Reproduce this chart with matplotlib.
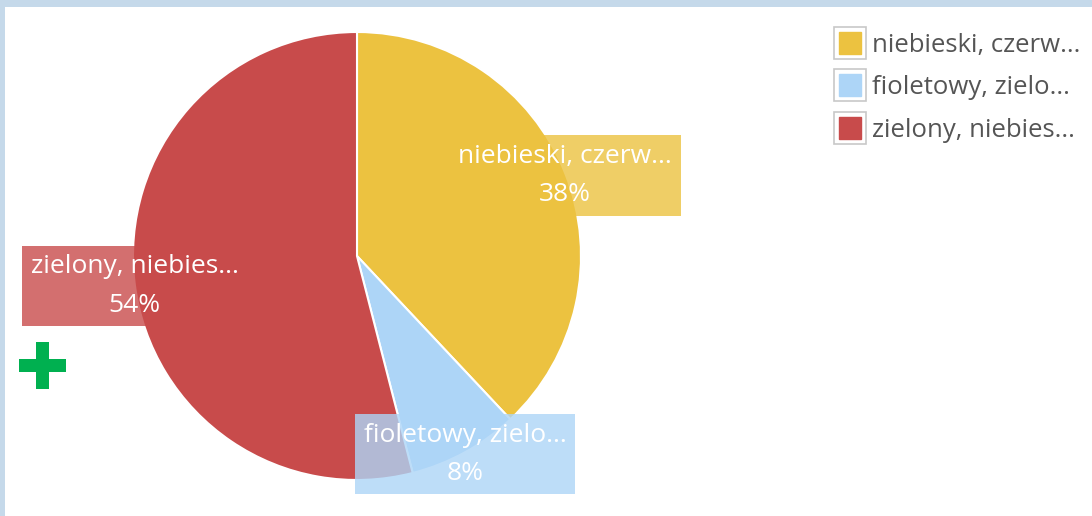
import matplotlib.pyplot as plt
from matplotlib.lines import Line2D
from matplotlib.patches import Rectangle
from matplotlib.legend_handler import HandlerTuple
from matplotlib.transforms import ScaledTranslation

# slice data
labels = ["niebieski, czerw...", "fioletowy, zielo...", "zielony, niebies..."]
shares = [38, 8, 54]
colors = ["#ECC240", "#ADD5F7", "#C84B4B"]

W, H = 1092, 516
fig = plt.figure(figsize=(W / 100, H / 100), dpi=100)
fig.patch.set_facecolor("white")


def px_rect(x0, y0, w, h, color):
    # rectangle given in pixels from the top-left corner
    fig.add_artist(Rectangle((x0 / W, 1 - (y0 + h) / H), w / W, h / H,
                             transform=fig.transFigure, color=color, lw=0))


# light blue frame at top and left
px_rect(0, 0, W, 7, "#C5D9EA")
px_rect(0, 0, 5, H, "#C5D9EA")

# pie centred at (357, 256) px, radius 224 px
ax = fig.add_axes([133 / W, 36 / H, 448 / W, 448 / H])
wedges, texts = ax.pie(shares, colors=colors, startangle=90, counterclock=False,
                       radius=1.0, labeldistance=1.0,
                       labels=[f"{l}\n{s}%" for l, s in zip(labels, shares)],
                       wedgeprops=dict(edgecolor="white", linewidth=1.5))
shift = ScaledTranslation(0, -2 / 100, fig.dpi_scale_trans)
for t, c in zip(texts, colors):
    t.set_ha("center")
    t.set_va("center")
    t.set_color("white")
    t.set_fontsize(19)
    t.set_family("Open Sans")
    t.set_linespacing(1.7)
    t.set_transform(t.get_transform() + shift)
    t.set_bbox(dict(boxstyle="square,pad=0.32", facecolor=c, alpha=0.8, edgecolor="none"))
ax.set_xlim(-1, 1)
ax.set_ylim(-1, 1)
ax.axis("off")

# legend
handles = [(Line2D([], [], marker="s", ms=23, mfc="white", mec="#C8C8C8", mew=1.2, ls=""),
            Line2D([], [], marker="s", ms=16, mfc=c, mec=c, ls=""))
           for c in colors]
fig.legend(handles, labels, handler_map={tuple: HandlerTuple(ndivide=1)},
           loc="upper left", bbox_to_anchor=(822 / W, 1 - 20 / H), frameon=False,
           prop=dict(family="Open Sans", size=18.5), labelcolor="#555555",
           handlelength=1.2, handletextpad=0.25, labelspacing=0.68, borderpad=0)

# green plus sign
px_rect(19, 359, 47, 13, "#00B050")
px_rect(36, 342, 13, 47, "#00B050")

fig.savefig("out.png", dpi=100)
